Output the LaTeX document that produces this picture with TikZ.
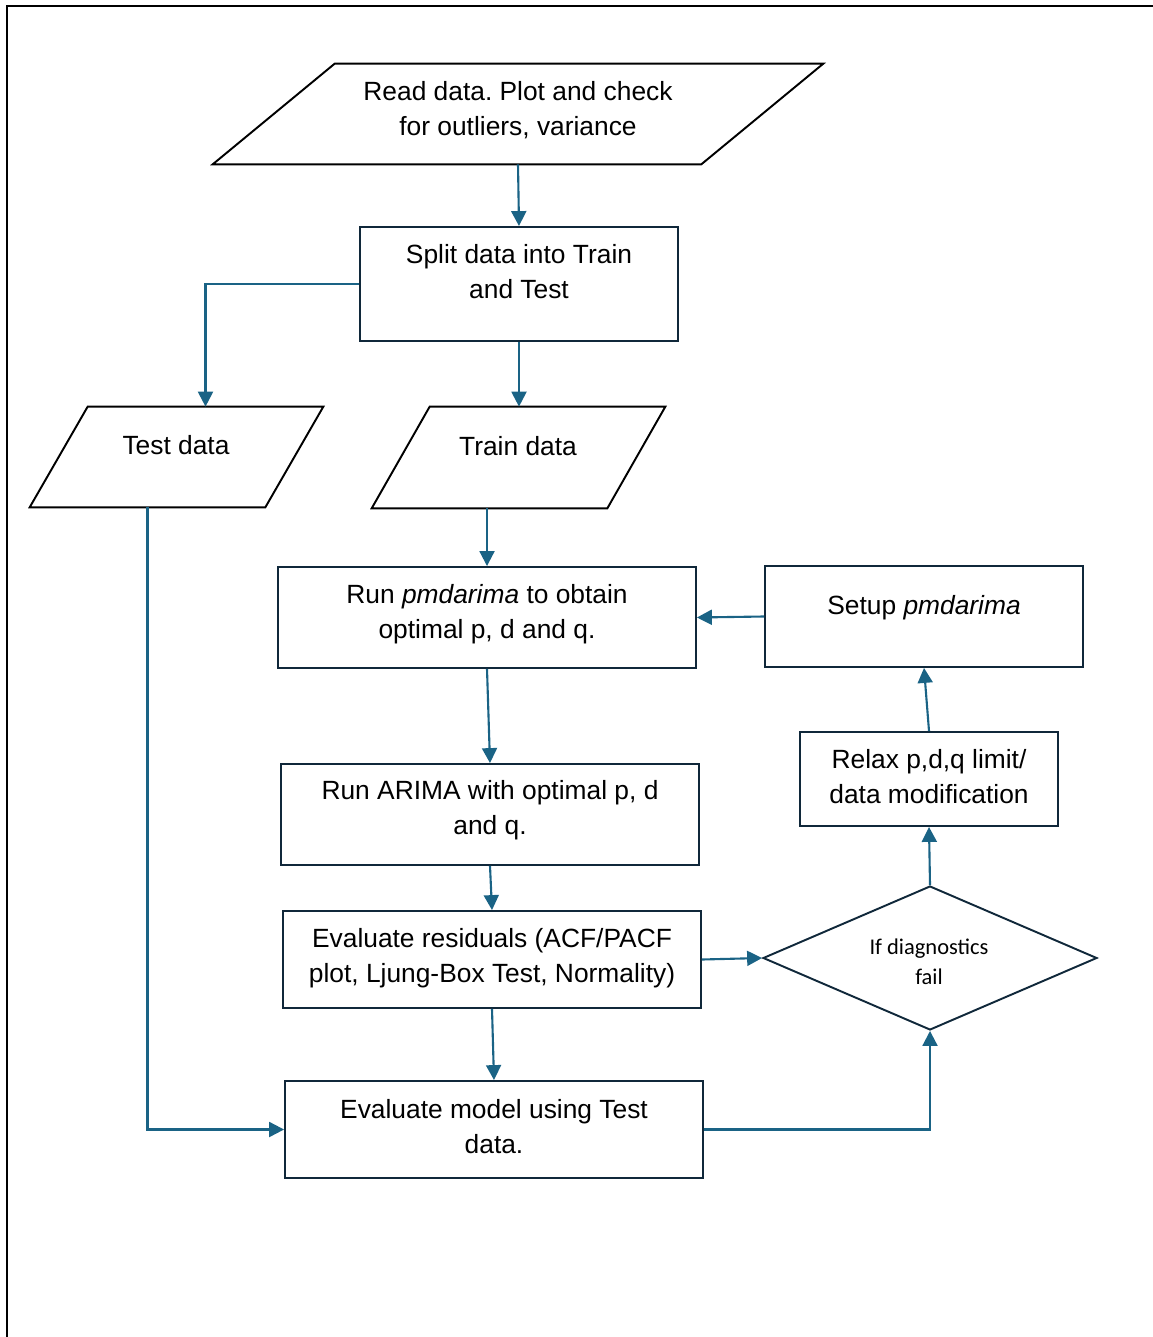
\documentclass[tikz,border=0pt]{standalone}
\usepackage{fontspec}
\setmainfont{Liberation Sans}
\newfontfamily\diafont{Carlito}
\usetikzlibrary{shapes.geometric,arrows.meta,calc}
\definecolor{boxline}{HTML}{10283A}
\definecolor{arrowc}{HTML}{1A6385}
\frenchspacing
\begin{document}
\begin{tikzpicture}[x=0.02cm,y=-0.02cm,
  box/.style={draw=boxline,line width=1.1pt,rectangle,inner sep=0pt},
  para/.style={rectangle,inner sep=0pt},
  paraline/.style={draw=black,line width=1.1pt,line join=miter},
  txt/.style={align=center,inner sep=0pt,font=\fontsize{15}{19.8}\selectfont},
  dia/.style={draw=boxline,line width=1.1pt,diamond,inner sep=0pt},
  diatxt/.style={align=center,inner sep=0pt,font=\diafont\fontsize{12.8}{17}\selectfont},
  conn/.style={draw=arrowc,line width=1.2pt,-{Triangle[length=8.5pt,width=8.5pt]}}]
\useasboundingbox (0,0) rectangle (1152,1337);
% frame
\coordinate (fA) at (7,1340);
\coordinate (fB) at (7,6);
\coordinate (fC) at (1160,6);
\draw[line width=1.1pt] (fA) -- (fB) -- (fC);

% parallelogram: Read
\node[para,minimum width=9.76cm,minimum height=2cm] (read) at (518,114) {};
\draw[paraline] ($(read.north west)+(61,0)$) -- ($(read.north east)+(61,0)$) -- ($(read.south east)+(-61,0)$) -- ($(read.south west)+(-61,0)$) -- cycle;
\node[txt] (readT) at (518,110) {Read data. Plot and check\\for outliers, variance};

% Split
\node[box,minimum width=6.36cm,minimum height=2.28cm] (split) at (519,284) {};
\node[txt] (splitT) at (519,271.5) {Split data into Train\\and Test};

% Test data
\node[para,minimum width=4.7cm,minimum height=2cm] (test) at (176.5,457) {};
\draw[paraline] ($(test.north west)+(29,0)$) -- ($(test.north east)+(29,0)$) -- ($(test.south east)+(-29,0)$) -- ($(test.south west)+(-29,0)$) -- cycle;
\node[txt] (testT) at (176,445) {Test data};

% Train data
\node[para,minimum width=4.7cm,minimum height=2.02cm] (train) at (518.5,457.5) {};
\draw[paraline] ($(train.north west)+(29,0)$) -- ($(train.north east)+(29,0)$) -- ($(train.south east)+(-29,0)$) -- ($(train.south west)+(-29,0)$) -- cycle;
\node[txt] (trainT) at (518,446) {Train data};

% Run pmdarima
\node[box,minimum width=8.36cm,minimum height=2.02cm] (run) at (487,617.5) {};
\node[txt] (runT) at (487,614) {Run \textit{pmdarima} to obtain\\optimal p, d and q.};

% Setup
\node[box,minimum width=6.36cm,minimum height=2.02cm] (setup) at (924,616.5) {};
\node[txt] (setupT) at (924,608) {Setup \textit{pmdarima}};

% Run ARIMA
\node[box,minimum width=8.36cm,minimum height=2.02cm] (arima) at (490,814.5) {};
\node[txt] (arimaT) at (490,810.5) {Run ARIMA with optimal p, d\\and q.};

% Relax
\node[box,minimum width=5.16cm,minimum height=1.88cm] (relax) at (929,779) {};
\node[txt] (relaxT) at (929,776.5) {Relax p,d,q limit/\\data modification};

% Evaluate residuals
\node[box,minimum width=8.36cm,minimum height=1.94cm] (evalr) at (492,959.5) {};
\node[txt] (evalrT) at (492,958.5) {Evaluate residuals (ACF/PACF\\plot, Ljung-Box Test, Normality)};

% Diamond
\node[dia,minimum width=6.68cm,minimum height=2.88cm] (dia) at (930,958) {};
\node[diatxt] (diaT) at (929,962) {If diagnostics\\fail};

% Evaluate model
\node[box,minimum width=8.36cm,minimum height=1.94cm] (evalm) at (494,1129.5) {};
\node[txt] (evalmT) at (494,1126.5) {Evaluate model using Test\\data.};

% connectors
\draw[conn] (read.south) -- (split.north);
\draw[conn] (split.west) -| ($(test.north)+(29,0)$);
\draw[conn] (split.south) -- (split.south |- train.north);
\draw[conn] (train.south -| run.north) -- (run.north);
\draw[conn] (setup.west) -- (run.east);
\draw[conn] (run.south) -- (arima.north);
\draw[conn] (arima.south) -- (evalr.north);
\draw[conn] (evalr.south) -- (evalm.north);
\draw[conn] (evalr.east) -- (dia.west);
\draw[conn] (dia.north) -- (relax.south);
\draw[conn] (relax.north) -- (setup.south);
\draw[conn] ($(test.south)+(-29,0)$) |- (evalm.west);
\draw[conn] (evalm.east) -| (dia.south);
\end{tikzpicture}
\end{document}
